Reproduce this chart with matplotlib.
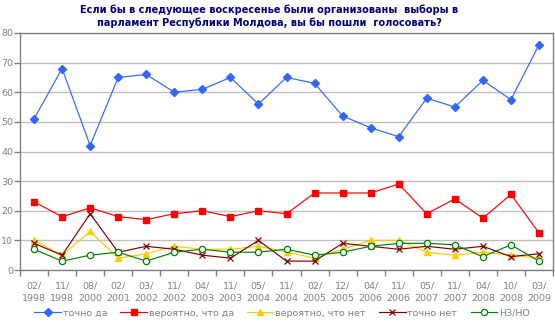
import numpy as np
import matplotlib
matplotlib.use('Agg')
import matplotlib.pyplot as plt
from matplotlib.ticker import FixedLocator, NullFormatter

plt.rcParams['font.family'] = ['DejaVu Sans']

periods = ["02/\n1998", "11/\n1998", "08/\n2000", "02/\n2001", "03/\n2002", "11/\n2002",
           "04/\n2003", "11/\n2003", "05/\n2004", "11/\n2004", "02/\n2005", "12/\n2005",
           "04/\n2006", "11/\n2006", "05/\n2007", "11/\n2007", "04/\n2008", "10/\n2008",
           "03/\n2009"]

definitely_yes = [51, 68, 42, 65, 66, 60, 61, 65, 56, 65, 63, 52, 48, 45, 58, 55, 64, 57.5, 76]
probably_yes = [23, 18, 21, 18, 17, 19, 20, 18, 20, 19, 26, 26, 26, 29, 19, 24, 17.5, 25.5, 12.5]
probably_no = [10, 5, 13, 4, 5.5, 8, 7, 7, 8, 6, 4, 7, 10, 10, 6, 5, 6, 5, 4]
definitely_no = [9, 5, 19, 6, 8, 7, 5, 4, 10, 3, 3, 9, 8, 7, 8, 7, 8, 4.5, 5.5]
dont_know = [7, 3, 5, 6, 3, 6, 7, 6, 6, 7, 5, 6, 8, 9, 9, 8.5, 4.5, 8.5, 3]

series = [
    ("точно да", definitely_yes, dict(color="#3366FF", marker="D", ms=4, mfc="#3366FF", mec="#3366FF")),
    ("вероятно, что да", probably_yes, dict(color="#FF0000", marker="s", ms=5, mfc="#FF0000", mec="#FF0000")),
    ("вероятно, что нет", probably_no, dict(color="#FFCC00", marker="^", ms=5, mfc="#FFCC00", mec="#FFCC00")),
    ("точно нет", definitely_no, dict(color="#800000", marker="x", ms=4.5, mew=0.9, mec="#800000")),
    ("НЗ/НО", dont_know, dict(color="#008000", marker="o", ms=4.5, mfc="white", mec="#008000", mew=0.9)),
]

fig = plt.figure(figsize=(5.55, 3.25), dpi=100)
ax = fig.add_axes([20 / 555, 1 - 270 / 325, 533 / 555, 237 / 325])

x = np.arange(len(periods))
for label, vals, style in series:
    ax.plot(x, vals, lw=0.85, label=label, **style)

ax.set_xlim(-0.5, len(periods) - 0.5)
ax.set_ylim(0, 80)
ax.set_yticks(range(0, 81, 10))
ax.yaxis.grid(True, color="#C0C0C0", lw=1)
ax.set_axisbelow(True)

ax.set_xticks(x)
ax.set_xticklabels(periods, fontsize=6.8, color="#808080", linespacing=1.5)
ax.tick_params(axis='x', which='major', length=0, pad=8)
ax.xaxis.set_minor_locator(FixedLocator(np.arange(-0.5, len(periods), 1)))
ax.xaxis.set_minor_formatter(NullFormatter())
ax.tick_params(axis='x', which='minor', length=4, color="#808080", width=1)
ax.tick_params(axis='y', length=4, color="#808080", width=1, labelsize=6.8,
               labelcolor="#808080", pad=1)

for s in ax.spines.values():
    s.set_color("#808080")
    s.set_linewidth(1)

fig.text(0.485, 1 - 16 / 325,
         "Если бы в следующее воскресенье были организованы  выборы в\n"
         "парламент Республики Молдова, вы бы пошли  голосовать?",
         ha="center", va="center", fontsize=7, fontweight="bold", color="#000080",
         linespacing=1.35)

fig.legend(loc="center", bbox_to_anchor=(0.508, 1 - 313 / 325), ncol=5, frameon=False,
           fontsize=6.8, labelcolor="#808080", handlelength=2.8, handletextpad=0.2,
           columnspacing=1.4, borderaxespad=0)

fig.savefig("out.png", dpi=100)
